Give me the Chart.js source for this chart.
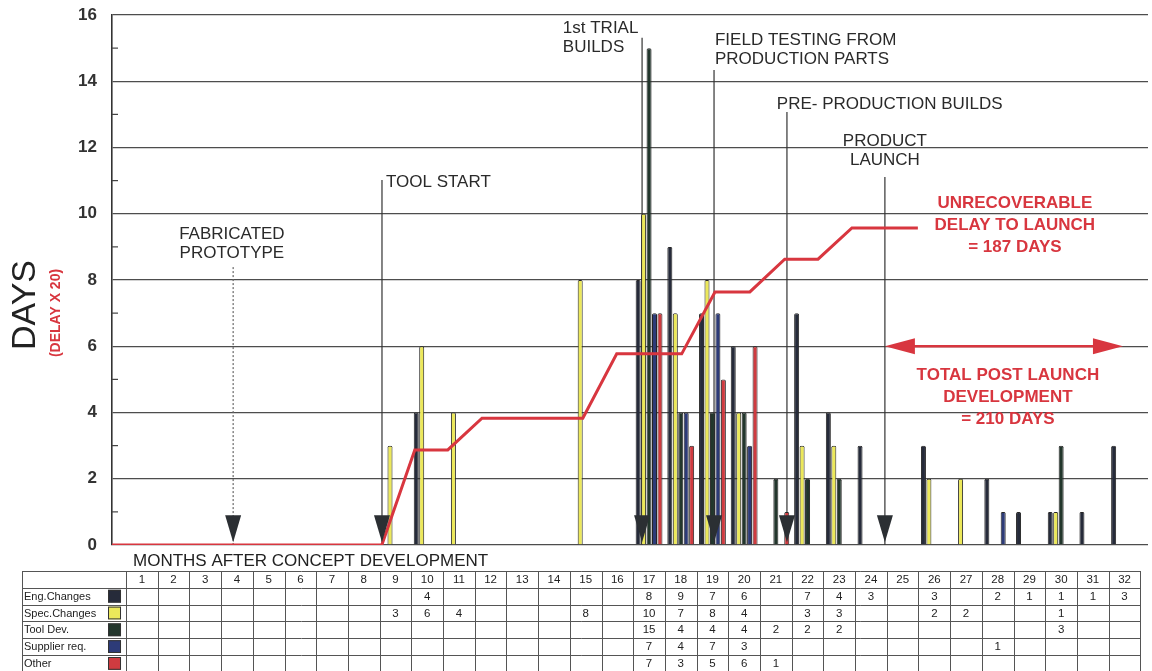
<!DOCTYPE html>
<html>
<head>
<meta charset="utf-8">
<script src="https://cdn.jsdelivr.net/npm/chart.js@4.4.0/dist/chart.umd.min.js"></script>
<style>
  html, body { margin: 0; padding: 0; background: #fff; }
  #wrap { width: 1152px; height: 671px; }
</style>
</head>
<body>
<div id="wrap"><canvas id="delayChart" width="1152" height="671"></canvas></div>
<script>
const N = null;

// months after concept development (table columns)
const months = [1, 2, 3, 4, 5, 6, 7, 8, 9, 10, 11, 12, 13, 14, 15, 16,
                17, 18, 19, 20, 21, 22, 23, 24, 25, 26, 27, 28, 29, 30, 31, 32];

// days per month
const engChanges  = [N, N, N, N, N, N, N, N, N, 4, N, N, N, N, N, N, 8, 9, 7, 6, N, 7, 4, 3, N, 3, N, 2, 1, 1, 1, 3];
const specChanges = [N, N, N, N, N, N, N, N, 3, 6, 4, N, N, N, 8, N, 10, 7, 8, 4, N, 3, 3, N, N, 2, 2, N, N, 1, N, N];
const toolDev     = [N, N, N, N, N, N, N, N, N, N, N, N, N, N, N, N, 15, 4, 4, 4, 2, 2, 2, N, N, N, N, N, N, 3, N, N];
const supplierReq = [N, N, N, N, N, N, N, N, N, N, N, N, N, N, N, N, 7, 4, 7, 3, N, N, N, N, N, N, N, 1, N, N, N, N];
const other       = [N, N, N, N, N, N, N, N, N, N, N, N, N, N, N, N, 7, 3, 5, 6, 1, N, N, N, N, N, N, N, N, N, N, N];

const seriesNames = ['Eng.Changes', 'Spec.Changes', 'Tool Dev.', 'Supplier req.', 'Other'];

// cumulative delay line (delay x 20)
const delayMonths = [0.06, 8.57, 9.61, 10.65, 11.73, 14.91, 15.98, 18.03, 19.08, 20.18, 21.28, 22.33, 23.40, 25.48];
const delayValues = [0, 0, 2.87, 2.87, 3.83, 3.83, 5.77, 5.77, 7.64, 7.64, 8.63, 8.63, 9.57, 9.57];

// milestone markers
const eventMonths   = [3.88, 8.575, 16.78, 19.05, 21.35, 24.44];
const eventLineTops = [8.39, 11.02, 15.31, 14.34, 13.07, 11.11];

const seriesColors = ['#262b3a', '#ece85a', '#22362c', '#2d3b78', '#cf3b40'];
const redNote = '#d8363f';
const FONT = "'Liberation Sans', Arial, sans-serif";

// label placement (axis units)
const eventLabels = [
  { lines: ['FABRICATED', 'PROTOTYPE'], at: [3.84, 9.39], align: 'center' },
  { lines: ['TOOL START'], at: [8.70, 10.96], align: 'left' },
  { lines: ['1st TRIAL', 'BUILDS'], at: [14.28, 15.61], align: 'left' },
  { lines: ['FIELD TESTING FROM', 'PRODUCTION PARTS'], at: [19.08, 15.25], align: 'left' },
  { lines: ['PRE- PRODUCTION BUILDS'], at: [21.03, 13.31], align: 'left' },
  { lines: ['PRODUCT', 'LAUNCH'], at: [24.44, 12.20], align: 'center' }
];
const redLabels = [
  { lines: ['UNRECOVERABLE', 'DELAY TO LAUNCH', '= 187 DAYS'], at: [28.54, 10.32] },
  { lines: ['TOTAL POST LAUNCH', 'DEVELOPMENT', '= 210 DAYS'], at: [28.32, 5.13] }
];
const postLaunchSpan = [24.44, 31.95, 6];

function toPoints(arr) {
  return months.map((m, i) => ({ x: m, y: arr[i] }));
}

const allSeries = [engChanges, specChanges, toolDev, supplierReq, other];

const datasets = [{
  type: 'line',
  label: 'Delay x 20',
  data: delayMonths.map((m, i) => ({ x: m, y: delayValues[i] })),
  borderColor: redNote,
  borderWidth: 3,
  pointRadius: 0,
  tension: 0,
  order: 0
}];
allSeries.forEach((arr, i) => {
  datasets.push({
    type: 'bar',
    label: seriesNames[i],
    data: toPoints(arr),
    backgroundColor: seriesColors[i],
    borderColor: '#262626',
    borderWidth: 1,
    borderRadius: 1.5,
    categoryPercentage: 0.86,
    barPercentage: 0.92,
    order: 1
  });
});

/*
   draws the milestone arrows, the notes, axis titles and the table underneath
*/
const overlay = {
  id: 'overlay',
  beforeDatasetsDraw(chart) {
    const ctx = chart.ctx;
    const xs = chart.scales.x, ys = chart.scales.y;
    const area = chart.chartArea;
    ctx.save();
    // minor ticks on the y axis
    ctx.strokeStyle = '#444';
    ctx.lineWidth = 1.2;
    for (let v = 1; v < 16; v += 2) {
      const y = ys.getPixelForValue(v);
      ctx.beginPath();
      ctx.moveTo(area.left, y);
      ctx.lineTo(area.left + 6, y);
      ctx.stroke();
    }
    // milestone lines
    eventMonths.forEach((m, i) => {
      const x = xs.getPixelForValue(m);
      ctx.beginPath();
      if (i === 0) {
        ctx.setLineDash([2, 2]);
        ctx.strokeStyle = '#666';
      } else {
        ctx.setLineDash([]);
        ctx.strokeStyle = '#333';
      }
      ctx.lineWidth = 1.2;
      ctx.moveTo(x, ys.getPixelForValue(eventLineTops[i]));
      ctx.lineTo(x, ys.getPixelForValue(0));
      ctx.stroke();
    });
    ctx.restore();
  },
  afterDatasetsDraw(chart) {
    const ctx = chart.ctx;
    const xs = chart.scales.x, ys = chart.scales.y;
    ctx.save();
    // arrow heads
    ctx.fillStyle = '#2b2f33';
    eventMonths.forEach(m => {
      const x = xs.getPixelForValue(m);
      ctx.beginPath();
      ctx.moveTo(x - 8, ys.getPixelForValue(0.9));
      ctx.lineTo(x + 8, ys.getPixelForValue(0.9));
      ctx.lineTo(x, ys.getPixelForValue(0.08));
      ctx.closePath();
      ctx.fill();
    });
    // milestone text
    ctx.fillStyle = '#2a2a2a';
    ctx.font = '17px ' + FONT;
    ctx.textBaseline = 'middle';
    eventLabels.forEach(l => {
      ctx.textAlign = l.align;
      const x = xs.getPixelForValue(l.at[0]);
      const y = ys.getPixelForValue(l.at[1]);
      l.lines.forEach((t, j) => ctx.fillText(t, x, y + j * 19));
    });
    // red notes
    ctx.fillStyle = redNote;
    ctx.font = 'bold 17px ' + FONT;
    ctx.textAlign = 'center';
    redLabels.forEach(l => {
      const x = xs.getPixelForValue(l.at[0]);
      const y = ys.getPixelForValue(l.at[1]);
      l.lines.forEach((t, j) => ctx.fillText(t, x, y + j * 22));
    });
    // double arrow for post launch development
    const x1 = xs.getPixelForValue(postLaunchSpan[0]);
    const x2 = xs.getPixelForValue(postLaunchSpan[1]);
    const ya = ys.getPixelForValue(postLaunchSpan[2]);
    ctx.strokeStyle = redNote;
    ctx.lineWidth = 2.5;
    ctx.beginPath();
    ctx.moveTo(x1 + 20, ya);
    ctx.lineTo(x2 - 20, ya);
    ctx.stroke();
    ctx.beginPath();
    ctx.moveTo(x1, ya);
    ctx.lineTo(x1 + 30, ya - 8);
    ctx.lineTo(x1 + 30, ya + 8);
    ctx.closePath();
    ctx.moveTo(x2, ya);
    ctx.lineTo(x2 - 30, ya - 8);
    ctx.lineTo(x2 - 30, ya + 8);
    ctx.closePath();
    ctx.fill();
    ctx.restore();
  },
  afterDraw(chart) {
    const ctx = chart.ctx;
    const xs = chart.scales.x;
    ctx.save();
    // y axis titles
    ctx.translate(26, 305);
    ctx.rotate(-Math.PI / 2);
    ctx.textAlign = 'center';
    ctx.textBaseline = 'middle';
    ctx.fillStyle = '#222';
    ctx.font = '34px ' + FONT;
    ctx.fillText('DAYS', 0, 0);
    ctx.fillStyle = redNote;
    ctx.font = 'bold 14px ' + FONT;
    ctx.fillText('(DELAY X 20)', -8, 30);
    ctx.restore();

    ctx.save();
    ctx.fillStyle = '#222';
    ctx.font = '17px ' + FONT;
    ctx.textAlign = 'left';
    ctx.textBaseline = 'middle';
    ctx.fillText('MONTHS AFTER CONCEPT DEVELOPMENT', 133, 561);

    // table
    const tLeft = 22, tTop = 571, rowH = 16.8;
    const labelEnd = xs.getPixelForValue(0.5);
    const tRight = xs.getPixelForValue(32.5);
    const tBottom = tTop + rowH * 6;
    ctx.strokeStyle = '#555';
    ctx.lineWidth = 1;
    for (let r = 0; r <= 6; r++) {
      const y = Math.round(tTop + r * rowH) + 0.5;
      ctx.beginPath();
      ctx.moveTo(tLeft, y);
      ctx.lineTo(tRight, y);
      ctx.stroke();
    }
    const vx = [tLeft, labelEnd];
    months.forEach(m => vx.push(xs.getPixelForValue(m + 0.5)));
    vx.forEach(x => {
      const xx = Math.round(x) + 0.5;
      ctx.beginPath();
      ctx.moveTo(xx, tTop);
      ctx.lineTo(xx, tBottom);
      ctx.stroke();
    });
    ctx.textAlign = 'center';
    ctx.font = '11.5px ' + FONT;
    ctx.fillStyle = '#222';
    months.forEach(m => ctx.fillText(String(m), xs.getPixelForValue(m), tTop + rowH / 2 + 0.5));
    allSeries.forEach((arr, r) => {
      const yc = tTop + rowH * (r + 1.5) + 0.5;
      ctx.textAlign = 'left';
      ctx.font = '11px ' + FONT;
      ctx.fillStyle = '#222';
      ctx.fillText(seriesNames[r], tLeft + 2, yc);
      // colour swatch
      ctx.fillStyle = seriesColors[r];
      ctx.strokeStyle = '#333';
      ctx.fillRect(labelEnd - 18, tTop + rowH * (r + 1) + 2, 13, rowH - 4);
      ctx.strokeRect(labelEnd - 18 + 0.5, tTop + rowH * (r + 1) + 2.5, 12, rowH - 5);
      ctx.textAlign = 'center';
      ctx.font = '11.5px ' + FONT;
      ctx.fillStyle = '#222';
      arr.forEach((v, i) => {
        if (v !== null) ctx.fillText(String(v), xs.getPixelForValue(months[i]), yc);
      });
    });
    ctx.restore();
  }
};

new Chart(document.getElementById('delayChart'), {
  type: 'bar',
  data: { datasets: datasets },
  options: {
    responsive: false,
    animation: false,
    layout: { padding: { top: 15, right: 4, bottom: 126, left: 0 } },
    plugins: {
      legend: { display: false },
      tooltip: { enabled: false }
    },
    scales: {
      x: {
        type: 'linear',
        display: false,
        offset: false,
        min: 0.058,
        max: 32.74
      },
      y: {
        min: 0,
        max: 16,
        afterFit(scale) {
          scale.width = 112;
          scale.paddingTop = 0;
          scale.paddingBottom = 0;
        },
        ticks: {
          stepSize: 2,
          padding: 15,
          color: '#333',
          font: { family: FONT, size: 17, weight: 'bold' }
        },
        grid: { color: '#4d4d4d', lineWidth: 1.3, drawTicks: false },
        border: { display: true, color: '#333', width: 1.6 }
      }
    }
  },
  plugins: [overlay]
});
</script>
</body>
</html>
